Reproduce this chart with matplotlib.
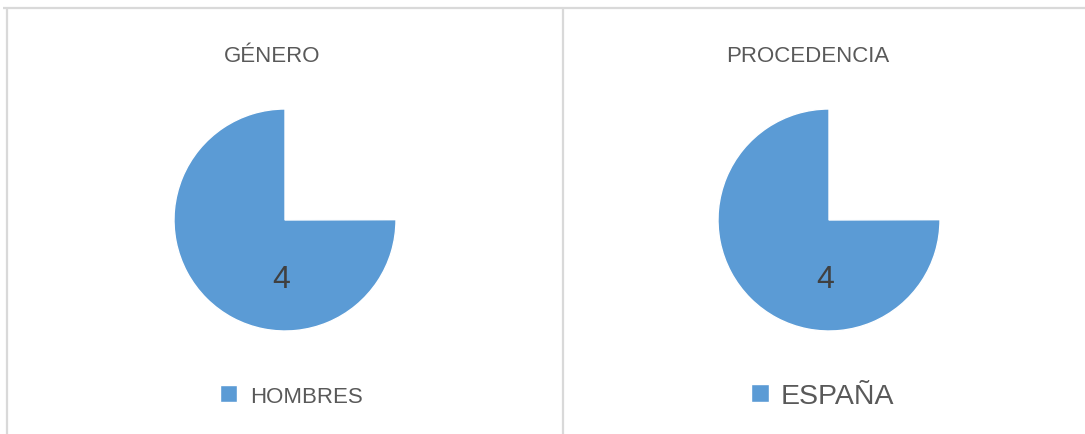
import matplotlib
matplotlib.use('Agg')
import matplotlib.pyplot as plt
from matplotlib.lines import Line2D

plt.rcParams['font.family'] = ['Liberation Sans', 'DejaVu Sans']

# datos
titulos = ['GÉNERO', 'PROCEDENCIA']
categorias = [['HOMBRES'], ['ESPAÑA']]
valores = [[4], [4]]
hueco = 1.33  # porción sin relleno (cuarto vacío)

azul = '#5B9BD5'
gris = '#595959'

fig = plt.figure(figsize=(10.85, 4.35), dpi=100)

# marcos
borde = '#D9D9D9'
ytop = 1 - 9 / 435
for xs, ys in [([3 / 1085, 1], [ytop, ytop]),
               ([6.5 / 1085, 6.5 / 1085], [0, ytop - 0.002]),
               ([563 / 1085, 563 / 1085], [0, ytop - 0.002])]:
    fig.add_artist(Line2D(xs, ys, color=borde, lw=1.6, solid_capstyle='butt',
                          transform=fig.transFigure))

pie_x = [174, 718]
title_x = [272, 808]
legend_x = [291, 823]
legend_fs = [16, 20.5]
handle_sz = [0.8, 0.62]
handle_pad = [0.55, 0.42]

for i in range(2):
    ax = fig.add_axes([pie_x[i] / 1085, (435 - 332) / 435, 222 / 1085, 222 / 435])
    wedges, _ = ax.pie([hueco] + valores[i], colors=['none', azul], startangle=90,
                       counterclock=False, radius=1,
                       wedgeprops=dict(linewidth=1, edgecolor='white'))
    wedges[0].set_edgecolor('none')
    ax.set_xlim(-1, 1)
    ax.set_ylim(-1, 1)
    ax.set_aspect('equal')
    ax.axis('off')
    ax.text(-0.03, -0.53, str(valores[i][0]), ha='center', va='center',
            fontsize=23, color='#404040')
    fig.text(title_x[i] / 1085, 1 - 57 / 435, titulos[i], ha='center', va='center',
             fontsize=16, color=gris)
    fig.legend(handles=[wedges[1]], labels=categorias[i], loc='center',
               bbox_to_anchor=(legend_x[i] / 1085, 1 - 397 / 435), frameon=False,
               fontsize=legend_fs[i], handlelength=handle_sz[i], handleheight=handle_sz[i],
               handletextpad=handle_pad[i], labelcolor=gris)

fig.savefig('out.png', dpi=100)
